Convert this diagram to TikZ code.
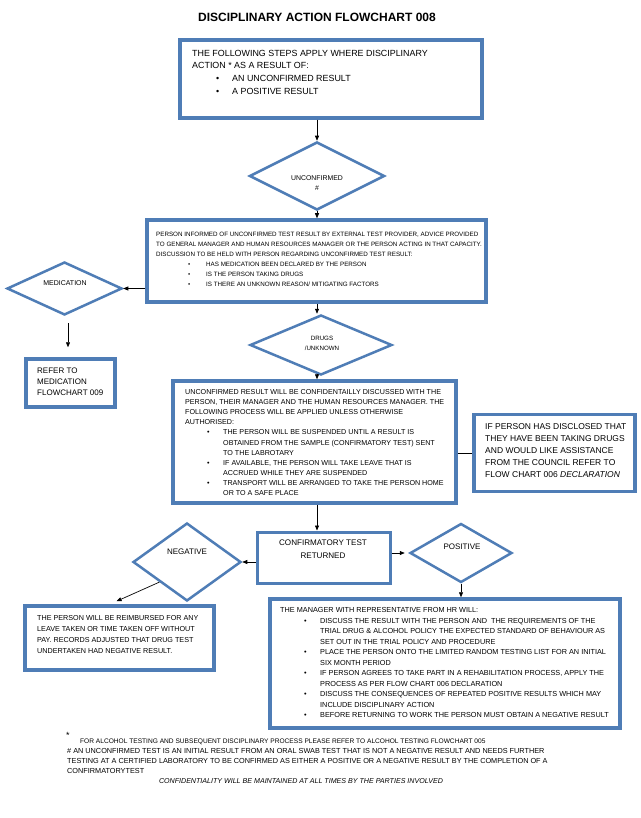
\documentclass[tikz,border=0pt]{standalone}
\usepackage{fontspec}
\setmainfont{Liberation Sans}
\usetikzlibrary{shapes.geometric,arrows.meta}
\definecolor{bd}{RGB}{79,125,182}
\newcommand\fsz[2]{\fontsize{#1pt}{#2pt}\selectfont}
\newcommand\bul[2]{\makebox[#1][l]{\hspace*{#2}\textbullet}}
\newcommand\ind[1]{\makebox[#1]{}}
\begin{document}
\begin{tikzpicture}[x=1pt,y=-1pt,
  box/.style={draw=bd, line width=3.5pt, inner sep=0pt, rectangle},
  dia/.style={draw=bd, line width=2.5pt, inner sep=0pt, shape=diamond},
  tx/.style={inner sep=0pt, align=left, anchor=north west},
  ct/.style={inner sep=0pt, align=center, anchor=north},
  arr/.style={line width=0.7pt, -{Triangle[length=5pt,width=4pt]}},
  ln/.style={line width=0.7pt}]
\fill[white] (0,0) rectangle (640,818);
\useasboundingbox (0,0) rectangle (640,818);
\coordinate (sp) at (317,0);
% title
\node[inner sep=0pt, font=\bfseries\fsz{12}{14}] (title) at (317,17) {DISCIPLINARY ACTION FLOWCHART 008};
% top box
\node[box, minimum width=302pt, minimum height=78pt] (topbox) at (331,79) {};
\node[tx, font=\fsz{8.9}{12.7}] (toptx) at (192,49.8) {THE FOLLOWING STEPS APPLY WHERE DISCIPLINARY\\
ACTION * AS A RESULT OF:\\
\bul{40pt}{24pt}AN UNCONFIRMED RESULT\\
\bul{40pt}{24pt}A POSITIVE RESULT};
% unconfirmed diamond
\node[dia, minimum width=135pt, minimum height=68pt] (unc) at (317,176) {};
\node[ct, font=\fsz{6.9}{10.5}] (unctx) at (317,175) {UNCONFIRMED\\\#};
% box 1
\node[box, minimum width=339pt, minimum height=82pt] (box1) at (316.5,261) {};
\node[tx, font=\fsz{6.25}{10.1}] (box1tx) at (156,231.8) {PERSON INFORMED OF UNCONFIRMED TEST RESULT BY EXTERNAL TEST PROVIDER, ADVICE PROVIDED\\
TO GENERAL MANAGER AND HUMAN RESOURCES MANAGER OR THE PERSON ACTING IN THAT CAPACITY.\\
DISCUSSION TO BE HELD WITH PERSON REGARDING UNCONFIRMED TEST RESULT:\\
\bul{50pt}{32pt}HAS MEDICATION BEEN DECLARED BY THE PERSON\\
\bul{50pt}{32pt}IS THE PERSON TAKING DRUGS\\
\bul{50pt}{32pt}IS THERE AN UNKNOWN REASON/ MITIGATING FACTORS};
% medication
\node[dia, minimum width=115pt, minimum height=53pt] (med) at (64.5,288.5) {};
\node[ct, font=\fsz{7}{9}] (medtx) at (65,280.5) {MEDICATION};
\node[box, minimum width=89pt, minimum height=48pt] (refer) at (70.5,383) {};
\node[tx, font=\fsz{8}{11}] (refertx) at (37,368.1) {REFER TO\\MEDICATION\\FLOWCHART 009};
% drugs diamond
\node[dia, minimum width=142pt, minimum height=60pt] (drugs) at (321,345) {};
\node[ct, font=\fsz{6.2}{10.5}] (drugstx) at (322,335.8) {DRUGS\\/UNKNOWN};
% box 2
\node[box, minimum width=283pt, minimum height=122pt] (box2) at (314.5,442) {};
\node[tx, font=\fsz{7.15}{10.1}] (box2tx) at (185,389.4) {UNCONFIRMED RESULT WILL BE CONFIDENTAILLY DISCUSSED WITH THE\\
PERSON, THEIR MANAGER AND THE HUMAN RESOURCES MANAGER. THE\\
FOLLOWING PROCESS WILL BE APPLIED UNLESS OTHERWISE\\
AUTHORISED:\\
\bul{38pt}{22pt}THE PERSON WILL BE SUSPENDED UNTIL A RESULT IS\\
\ind{38pt}OBTAINED FROM THE SAMPLE (CONFIRMATORY TEST) SENT\\
\ind{38pt}TO THE LABROTARY\\
\bul{38pt}{22pt}IF AVAILABLE, THE PERSON WILL TAKE LEAVE THAT IS\\
\ind{38pt}ACCRUED WHILE THEY ARE SUSPENDED\\
\bul{38pt}{22pt}TRANSPORT WILL BE ARRANGED TO TAKE THE PERSON HOME\\
\ind{38pt}OR TO A SAFE PLACE};
% right box
\node[box, minimum width=161pt, minimum height=77pt] (rbox) at (554.5,453) {};
\node[tx, font=\fsz{8.5}{12.2}] (rboxtx) at (485,423) {IF PERSON HAS DISCLOSED THAT\\
THEY HAVE BEEN TAKING DRUGS\\
AND WOULD LIKE ASSISTANCE\\
FROM THE COUNCIL REFER TO\\
FLOW CHART 006 \textit{DECLARATION}};
% confirmatory
\node[box, line width=3pt, minimum width=133pt, minimum height=51pt] (conf) at (323.5,557.5) {};
\node[ct, font=\fsz{8.1}{12.7}] (conftx) at (323,540.1) {CONFIRMATORY TEST\\RETURNED};
% negative
\node[dia, minimum width=108pt, minimum height=78pt] (neg) at (187,562) {};
\node[ct, font=\fsz{8}{10}] (negtx) at (187,549.1) {NEGATIVE};
\node[box, minimum width=189pt, minimum height=64pt] (negbox) at (119.5,638) {};
\node[tx, font=\fsz{7.2}{10.9}] (negboxtx) at (37,615.4) {THE PERSON WILL BE REIMBURSED FOR ANY\\
LEAVE TAKEN OR TIME TAKEN OFF WITHOUT\\
PAY. RECORDS ADJUSTED THAT DRUG TEST\\
UNDERTAKEN HAD NEGATIVE RESULT.};
% positive
\node[dia, minimum width=102pt, minimum height=59pt] (pos) at (461,553) {};
\node[ct, font=\fsz{8}{10}] (postx) at (462,544.1) {POSITIVE};
\node[box, minimum width=350pt, minimum height=129pt] (mgr) at (445,663.5) {};
\node[tx, font=\fsz{7.3}{10.5}] (mgrtx) at (280,607.4) {THE MANAGER WITH REPRESENTATIVE FROM HR WILL:\\
\bul{40pt}{24pt}DISCUSS THE RESULT WITH THE PERSON AND\ \ THE REQUIREMENTS OF THE\\
\ind{40pt}TRIAL DRUG \& ALCOHOL POLICY THE EXPECTED STANDARD OF BEHAVIOUR AS\\
\ind{40pt}SET OUT IN THE TRIAL POLICY AND PROCEDURE\\
\bul{40pt}{24pt}PLACE THE PERSON ONTO THE LIMITED RANDOM TESTING LIST FOR AN INITIAL\\
\ind{40pt}SIX MONTH PERIOD\\
\bul{40pt}{24pt}IF PERSON AGREES TO TAKE PART IN A REHABILITATION PROCESS, APPLY THE\\
\ind{40pt}PROCESS AS PER FLOW CHART 006 DECLARATION\\
\bul{40pt}{24pt}DISCUSS THE CONSEQUENCES OF REPEATED POSITIVE RESULTS WHICH MAY\\
\ind{40pt}INCLUDE DISCIPLINARY ACTION\\
\bul{40pt}{24pt}BEFORE RETURNING TO WORK THE PERSON MUST OBTAIN A NEGATIVE RESULT};
% footnotes
\node[inner sep=0pt, font=\fsz{9}{9}] (star) at (68,735) {*};
\node[tx, font=\fsz{6.6}{9}] (fn1) at (80,738.6) {FOR ALCOHOL TESTING AND SUBSEQUENT DISCIPLINARY PROCESS PLEASE REFER TO ALCOHOL TESTING FLOWCHART 005};
\node[tx, font=\fsz{7.3}{10}] (fn2) at (67,748.4) {\# AN UNCONFIRMED TEST IS AN INITIAL RESULT FROM AN ORAL SWAB TEST THAT IS NOT A NEGATIVE RESULT AND NEEDS FURTHER\\
TESTING AT A CERTIFIED LABORATORY TO BE CONFIRMED AS EITHER A POSITIVE OR A NEGATIVE RESULT BY THE COMPLETION OF A\\
CONFIRMATORYTEST};
\node[ct, font=\itshape\fsz{7.1}{9}] (cfd) at (301,778.4) {CONFIDENTIALITY WILL BE MAINTAINED AT ALL TIMES BY THE PARTIES INVOLVED};
% connectors
\draw[arr] (topbox.south -| sp) -- (unc.north);
\draw[arr] (unc.south) -- (unc.south |- box1.north);
\draw[arr] (box1.west |- med.east) -- (med.east);
\draw[arr] ([xshift=3.5pt,yshift=-7pt]med.south) -- ([xshift=-2.5pt,yshift=10pt]refer.north);
\draw[arr] (box1.south -| sp) -- (drugs.north -| sp);
\draw[arr] (drugs.south -| sp) -- (box2.north -| sp);
\draw[ln] (box2.east |- rbox.west) -- (rbox.west);
\draw[arr] (box2.south -| sp) -- (conf.north -| sp);
\draw[arr] (conf.west |- neg.east) -- (neg.east);
\draw[arr] (conf.east |- pos.west) -- ([xshift=-4pt]pos.west);
\draw[arr] (pos.south) -- (pos.south |- mgr.north);
\draw[arr] (neg.south west) -- ([xshift=-3pt,yshift=3pt]negbox.north);
\end{tikzpicture}
\end{document}
